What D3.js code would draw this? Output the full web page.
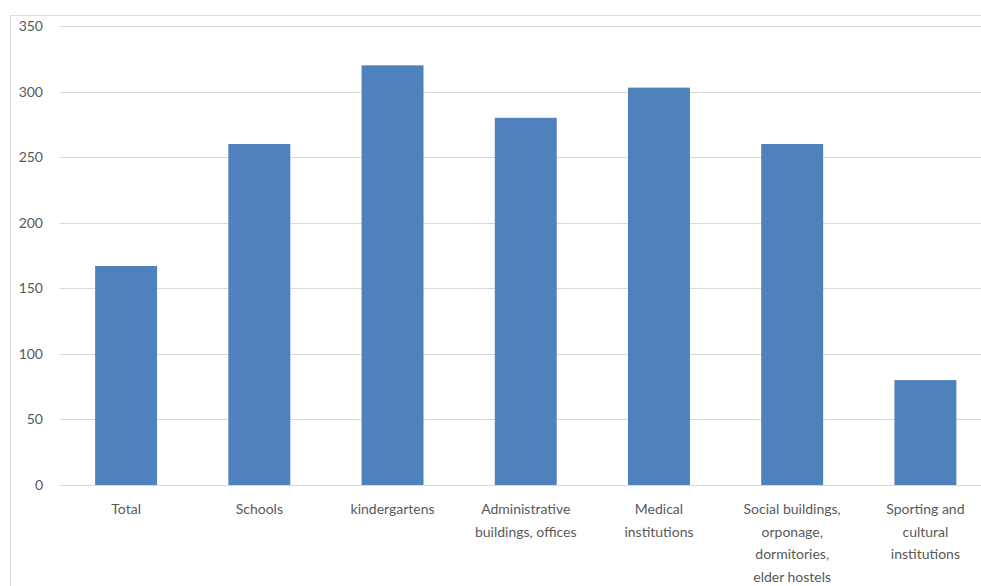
<!DOCTYPE html>
<html>
<head>
<meta charset="utf-8">
<script src="https://cdn.jsdelivr.net/npm/d3@7"></script>
<style>
  html, body { margin: 0; padding: 0; background: #fff; }
  svg { display: block; }
</style>
</head>
<body>
<svg id="chart" width="981" height="586"></svg>
<script>
// Categories (each label split into its wrapped lines) and values
const categories = [
  ["Total"],
  ["Schools"],
  ["kindergartens"],
  ["Administrative", "buildings, offices"],
  ["Medical", "institutions"],
  ["Social buildings,", "orponage,", "dormitories,", "elder hostels"],
  ["Sporting and", "cultural", "institutions"]
];
const values = [167, 260, 320, 280, 303, 260, 80];
const yTicks = [0, 50, 100, 150, 200, 250, 300, 350];

const svg = d3.select("#chart");
const W = 981, H = 586;

// Chart area frame
svg.append("rect")
  .attr("x", 10.5).attr("y", 15.5)
  .attr("width", 1000).attr("height", 600)
  .attr("fill", "#fff")
  .attr("stroke", "#d9d9d9")
  .attr("stroke-width", 1);

const plot = { left: 59.5, right: 992, top: 26, bottom: 485 };

const keys = categories.map((c, i) => i);
const x = d3.scaleBand()
  .domain(keys)
  .range([plot.left, plot.right])
  .paddingInner(0.535)
  .paddingOuter(0.2675);

const y = d3.scaleLinear()
  .domain([0, 350])
  .range([plot.bottom, plot.top]);

// Horizontal gridlines
svg.append("g")
  .selectAll("line")
  .data(yTicks)
  .join("line")
  .attr("x1", plot.left)
  .attr("x2", W)
  .attr("y1", d => Math.round(y(d)) + 0.5)
  .attr("y2", d => Math.round(y(d)) + 0.5)
  .attr("stroke", "#d9d9d9")
  .attr("stroke-width", 1);

// Y axis labels
const yAxis = d3.axisLeft(y).tickValues(yTicks).tickSize(0).tickPadding(0);
const gy = svg.append("g")
  .attr("transform", `translate(${43},0)`)
  .call(yAxis);
gy.select(".domain").remove();
gy.selectAll("text")
  .attr("fill", "#595959")
  .attr("font-family", "Lato, 'Open Sans', sans-serif")
  .attr("font-size", 14);

// Bars
svg.append("g")
  .selectAll("rect")
  .data(values)
  .join("rect")
  .attr("x", (d, i) => x(i))
  .attr("width", x.bandwidth())
  .attr("y", d => y(d))
  .attr("height", d => y(0) - y(d))
  .attr("fill", "#4f81bd");

// Category labels
const xAxis = d3.axisBottom(x).tickSize(0).tickPadding(0).tickFormat("");
const gx = svg.append("g")
  .attr("transform", `translate(0,${plot.bottom})`)
  .call(xAxis);
gx.select(".domain").remove();
gx.selectAll(".tick").each(function(i) {
  const t = d3.select(this).select("text")
    .attr("fill", "#595959")
    .attr("font-family", "Lato, 'Open Sans', sans-serif")
    .attr("font-size", 14)
    .attr("text-anchor", "middle")
    .attr("dy", null)
    .attr("y", 0);
  t.selectAll("tspan")
    .data(categories[i])
    .join("tspan")
    .attr("x", 0)
    .attr("y", (d, j) => 29 + j * 22.7)
    .text(d => d);
});
</script>
</body>
</html>
